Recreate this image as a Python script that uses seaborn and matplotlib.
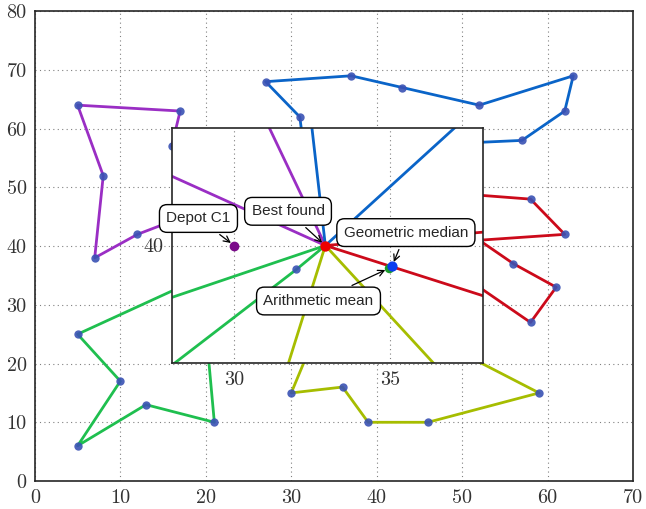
"""Capacitated routes for Christofides C1 with a relocated depot, plus a zoomed inset."""
import matplotlib

matplotlib.use("Agg")
import matplotlib.pyplot as plt
import pandas as pd
import seaborn as sns

# depot candidates and centres
DEPOT_C1 = (30, 40)
BEST_FOUND = (32.93, 40.0)
ARITH_MEAN = (34.98, 39.05)
GEO_MEDIAN = (35.08, 39.15)

# customer visiting order of each route (depot = best found, added at both ends)
ROUTE_NAMES = ["purple", "blue", "red", "olive", "green"]
ROUTE_PURPLE = [(21, 47), (12, 42), (7, 38), (8, 52), (5, 64), (17, 63), (16, 57), (25, 55), (30, 48)]
ROUTE_BLUE = [(31, 62), (27, 68), (37, 69), (43, 67), (52, 64), (63, 69), (62, 63), (57, 58),
              (42, 57), (37, 52), (38, 46)]
ROUTE_RED = [(42, 41), (49, 49), (58, 48), (62, 42), (52, 41), (56, 37), (61, 33), (58, 27),
             (52, 33), (45, 35)]
ROUTE_OLIVE = [(31, 32), (27, 23), (32, 22), (30, 15), (36, 16), (39, 10), (46, 10), (59, 15),
               (51, 21), (48, 28), (40, 30)]
ROUTE_GREEN = [(32, 39), (25, 32), (20, 26), (21, 10), (13, 13), (5, 6), (10, 17), (5, 25), (17, 33)]

ROUTE_COLORS = {
    "purple": "#9a2ec4",
    "blue": "#0a64c8",
    "red": "#cc0a1a",
    "olive": "#a6bd00",
    "green": "#1fbf4f",
}

MAIN_TICKS = [0, 10, 20, 30, 40, 50, 60, 70, 80]
INSET_XTICKS = [30, 35]
INSET_YTICKS = [40]


def build_frames():
    rows = []
    for name, stops in zip(ROUTE_NAMES, [ROUTE_PURPLE, ROUTE_BLUE, ROUTE_RED, ROUTE_OLIVE, ROUTE_GREEN]):
        path = [BEST_FOUND] + stops + [BEST_FOUND]
        for i, (x, y) in enumerate(path):
            rows.append({"route": name, "step": i, "x": x, "y": y})
    routes = pd.DataFrame(rows)
    customers = routes[(routes["step"] > 0) & (routes["x"] != BEST_FOUND[0])]
    return routes, customers


def draw_routes(ax, routes, customers):
    sns.lineplot(data=routes, x="x", y="y", hue="route", hue_order=ROUTE_NAMES,
                 palette=ROUTE_COLORS, sort=False, estimator=None, legend=False,
                 linewidth=2, ax=ax)
    sns.scatterplot(data=customers, x="x", y="y", color="#3a52b4", s=36, linewidth=0,
                    alpha=0.9, ax=ax, zorder=3)
    ax.set_xlabel("")
    ax.set_ylabel("")


def style_axes(ax):
    ax.grid(True, linestyle=(0, (1, 3)), color="0.5", linewidth=0.8)
    ax.tick_params(length=0, pad=6, labelsize=14.5, labelfontfamily="cmr10", labelcolor="0.2")
    for sp in ax.spines.values():
        sp.set_color("0.15")
        sp.set_linewidth(1.2)
        sp.set_visible(True)


def main() -> None:
    routes, customers = build_frames()

    sns.set_style("white")
    plt.rcParams["font.family"] = ["Liberation Sans", "DejaVu Sans"]

    fig = plt.figure(figsize=(6.46, 5.09), dpi=100)
    ax = fig.add_axes([0.054, 0.055, 0.926, 0.923])
    draw_routes(ax, routes, customers)
    ax.set_xlim(0, 70)
    ax.set_ylim(0, 80)
    ax.set_xticks(MAIN_TICKS[:-1])
    ax.set_yticks(MAIN_TICKS)
    style_axes(ax)

    ins = fig.add_axes([0.2663, 0.2874, 0.4814, 0.4605])
    ins.set_facecolor("white")
    draw_routes(ins, routes, customers)
    ins.scatter([ARITH_MEAN[0]], [ARITH_MEAN[1]], color="#1a9a2a", s=34, zorder=4)
    ins.scatter([GEO_MEDIAN[0]], [GEO_MEDIAN[1]], color="#0a3cf0", s=40, zorder=5)
    ins.scatter([BEST_FOUND[0]], [BEST_FOUND[1]], color="#ee0000", s=42, zorder=5)
    ins.scatter([DEPOT_C1[0]], [DEPOT_C1[1]], color="#7a0a8a", s=36, zorder=5)
    ins.set_xlim(28, 38)
    ins.set_ylim(35.1, 44.9)
    ins.set_xticks(INSET_XTICKS)
    ins.set_yticks(INSET_YTICKS)
    style_axes(ins)

    box = dict(boxstyle="round,pad=0.45,rounding_size=0.5", fc="white", ec="black", lw=1)
    arrow = dict(arrowstyle="->", color="black", lw=0.9, shrinkB=3)
    notes = [
        ("Depot C1", DEPOT_C1, (28.85, 41.13)),
        ("Best found", BEST_FOUND, (31.73, 41.43)),
        ("Geometric median", GEO_MEDIAN, (35.52, 40.54)),
        ("Arithmetic mean", ARITH_MEAN, (32.71, 37.68)),
    ]
    for label, xy, xytext in notes:
        ins.annotate(label, xy=xy, xytext=xytext, ha="center", va="center", fontsize=11,
                     bbox=box, arrowprops=arrow, zorder=6)

    fig.savefig("out.png", dpi=100)
    plt.close(fig)


if __name__ == "__main__":
    main()
